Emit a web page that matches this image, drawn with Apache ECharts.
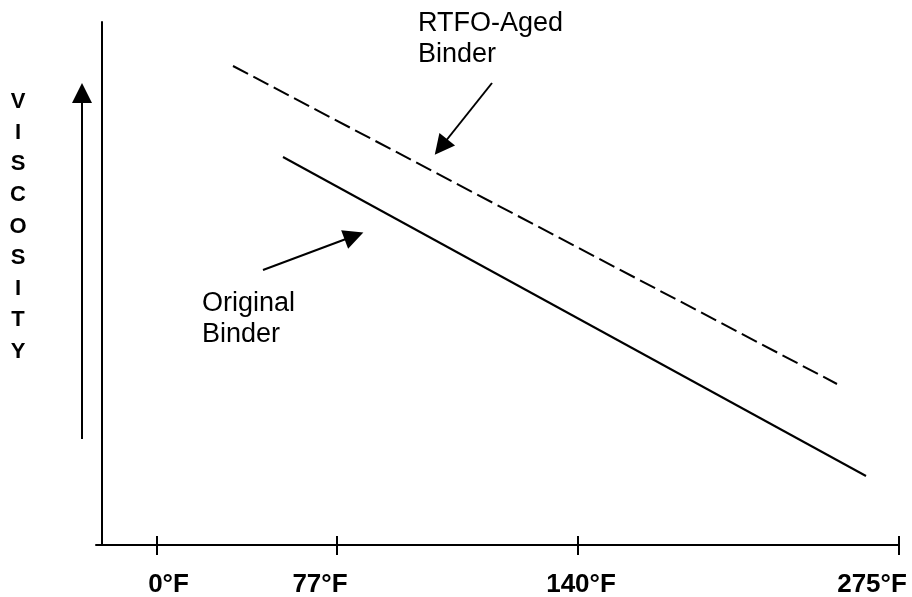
<!DOCTYPE html>
<html>
<head>
<meta charset="utf-8">
<script src="https://cdn.jsdelivr.net/npm/echarts@6/dist/echarts.min.js"></script>
<style>
html,body{margin:0;padding:0;background:#fff;}
#chart{width:912px;height:597px;}
</style>
</head>
<body>
<div id="chart"></div>
<script>
// Tick labels, tick positions and label anchor positions along the (schematic) temperature axis
const tickLabels = ['0°F', '77°F', '140°F', '275°F'];
const tickPositions = [5.5, 23.5, 47.6, 79.7];
const labelPositions = [6.65, 21.8, 47.9, 77.0];
// Schematic viscosity lines: [x, y] end points
const originalBinder = [[18.1, 38.8], [76.4, 6.9]];
const rtfoAgedBinder = [[13.1, 47.9], [73.5, 16.1]];
// Annotation arrows: [tail, head]
const arrowViscosity = [[-2.0, 10.6], [-2.0, 45.2]];
const arrowRtfo = [[39.0, 46.2], [33.9, 39.8]];
const arrowOriginal = [[16.1, 27.5], [25.2, 30.9]];
// Axis ranges
const xRange = [-0.6, 79.7];
const yRange = [0, 52.3];

const FONT = '"Liberation Sans", Arial, Helvetica, sans-serif';
const chart = echarts.init(document.getElementById('chart'), null, {renderer: 'canvas'});

const labelFmt = v => {
  const i = labelPositions.findIndex(p => Math.abs(p - v) < 1e-6);
  return i >= 0 ? tickLabels[i] : '';
};

const option = {
  animation: false,
  backgroundColor: '#fff',
  grid: {left: 96, right: 13, top: 22, bottom: 52, containLabel: false, outerBoundsMode: 'none'},
  xAxis: [
    {
      type: 'value', position: 'bottom', min: xRange[0], max: xRange[1],
      axisLine: {show: true, onZero: false, lineStyle: {color: '#000', width: 2}},
      axisTick: {show: false},
      splitLine: {show: false},
      axisLabel: {
        show: true, customValues: labelPositions, formatter: labelFmt,
        margin: 27, color: '#000', fontFamily: FONT, fontWeight: 'bold', fontSize: 26, lineHeight: 26,
        showMinLabel: true, showMaxLabel: true, hideOverlap: false
      }
    },
    {
      type: 'value', position: 'bottom', offset: -9, min: xRange[0], max: xRange[1],
      axisLine: {show: false, onZero: false},
      axisTick: {show: true, customValues: tickPositions, length: 19, inside: false, lineStyle: {color: '#000', width: 2}},
      splitLine: {show: false},
      axisLabel: {show: false}
    }
  ],
  yAxis: {
    type: 'value', min: yRange[0], max: yRange[1], position: 'left', offset: -6,
    axisLine: {show: true, onZero: false, lineStyle: {color: '#000', width: 2}},
    axisTick: {show: false},
    axisLabel: {show: false},
    splitLine: {show: false}
  },
  graphic: [
    {type: 'text', x: 18, y: 86, silent: true,
     style: {text: 'V\nI\nS\nC\nO\nS\nI\nT\nY', fill: '#000', font: 'bold 22px ' + FONT,
             lineHeight: 31.25, align: 'center', verticalAlign: 'top'}},
    {type: 'text', x: 418, y: 8, silent: true,
     style: {text: 'RTFO-Aged\nBinder', fill: '#000', font: '27px ' + FONT,
             lineHeight: 31, align: 'left', verticalAlign: 'top'}},
    {type: 'text', x: 202, y: 288, silent: true,
     style: {text: 'Original\nBinder', fill: '#000', font: '27px ' + FONT,
             lineHeight: 31, align: 'left', verticalAlign: 'top'}}
  ],
  series: [
    {
      name: 'Original Binder', type: 'line', xAxisIndex: 0, data: originalBinder,
      showSymbol: false, symbol: 'none', silent: true,
      lineStyle: {color: '#000', width: 2, type: 'solid'}
    },
    {
      name: 'RTFO-Aged Binder', type: 'line', xAxisIndex: 0, data: rtfoAgedBinder,
      showSymbol: false, symbol: 'none', silent: true,
      lineStyle: {color: '#000', width: 2, type: [17, 6]}
    },
    {
      name: 'arrows', type: 'lines', coordinateSystem: 'cartesian2d', xAxisIndex: 0,
      clip: false, silent: true, polyline: false,
      symbol: ['none', 'triangle'],
      itemStyle: {color: '#000'},
      lineStyle: {color: '#000', width: 2, opacity: 1, curveness: 0},
      data: [
        {coords: arrowViscosity, symbolSize: [21, 20]},
        {coords: arrowRtfo, symbolSize: [19, 20]},
        {coords: arrowOriginal, symbolSize: [18, 20]}
      ]
    }
  ]
};
chart.setOption(option);
</script>
</body>
</html>
